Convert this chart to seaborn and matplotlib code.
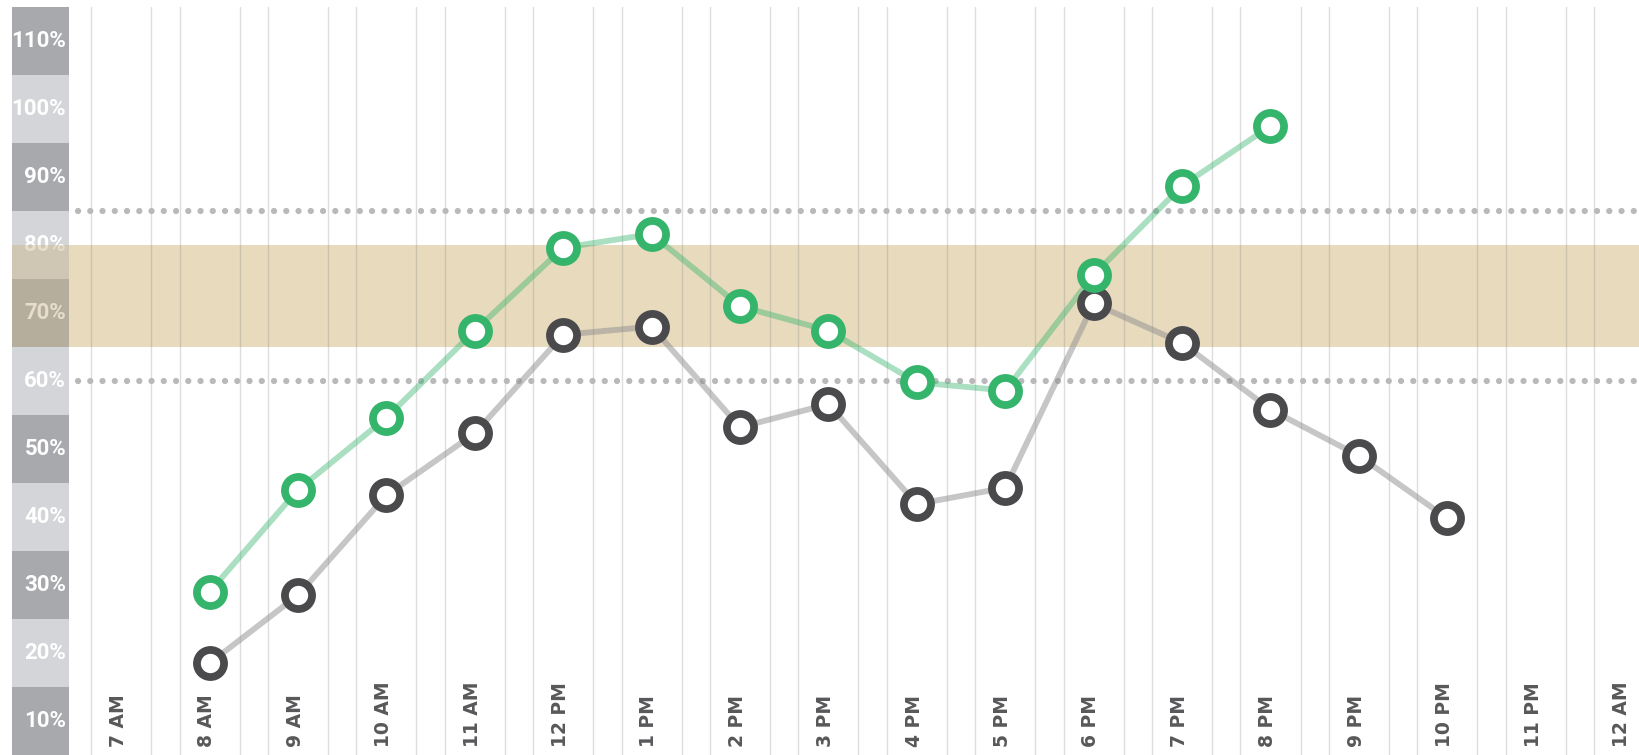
import pandas as pd
import matplotlib
matplotlib.use("Agg")
import matplotlib.pyplot as plt
import seaborn as sns

# data
hours = ["7 AM", "8 AM", "9 AM", "10 AM", "11 AM", "12 PM", "1 PM", "2 PM", "3 PM",
         "4 PM", "5 PM", "6 PM", "7 PM", "8 PM", "9 PM", "10 PM", "11 PM", "12 AM"]

green_hours = ["8 AM", "9 AM", "10 AM", "11 AM", "12 PM", "1 PM", "2 PM", "3 PM",
               "4 PM", "5 PM", "6 PM", "7 PM", "8 PM"]
green_values = [29.0, 44.0, 54.6, 67.4, 79.6, 81.6, 71.0, 67.4, 59.8, 58.6, 75.6, 88.7, 97.5]

grey_hours = ["8 AM", "9 AM", "10 AM", "11 AM", "12 PM", "1 PM", "2 PM", "3 PM",
              "4 PM", "5 PM", "6 PM", "7 PM", "8 PM", "9 PM", "10 PM"]
grey_values = [18.5, 28.5, 43.2, 52.3, 66.8, 68.0, 53.2, 56.6, 41.9, 44.3, 71.4, 65.6,
               55.8, 49.0, 39.8]

y_ticks = [10, 20, 30, 40, 50, 60, 70, 80, 90, 100, 110]
target_band = (65, 80)
limit_lines = [60, 85]

# colours
GREEN = "#35b46c"
DARK = "#4a4a4d"
TAN = "#e7dabd"
STRIP_DARK = "#a8a9ad"
STRIP_LIGHT = "#d4d5d8"

sns.set_theme(style="white")
plt.rcParams["font.family"] = ["Roboto", "DejaVu Sans"]

df = pd.concat([
    pd.DataFrame({"hour": green_hours, "value": green_values, "series": "green"}),
    pd.DataFrame({"hour": grey_hours, "value": grey_values, "series": "grey"}),
])
df["pos"] = df["hour"].map(hours.index)

W, H = 1640, 755
fig = plt.figure(figsize=(W / 100, H / 100), dpi=100)
top = (H - 7) / H

# left label strip
ax_s = fig.add_axes([12.5 / W, 0, 56.5 / W, top])
ax_s.set_xlim(0, 1)
ax_s.set_ylim(5, 115)
ax_s.barh(y_ticks, 1, height=10, left=0, lw=0,
          color=[STRIP_DARK if i % 2 == 0 else STRIP_LIGHT for i in range(len(y_ticks))],
          zorder=1)
for v in y_ticks:
    ax_s.text(0.95, v, f"{v}%", ha="right", va="center", color="white",
              fontsize=16, fontweight="bold", zorder=2)
ax_s.axhspan(*target_band, color="#c9b68a", alpha=0.45, lw=0, zorder=3)
ax_s.axis("off")

# main chart
ax = fig.add_axes([69 / W, 0, 1 - 69 / W, top])
ax.set_xlim(-0.59, 17.18)
ax.set_ylim(5, 115)

ax.axhspan(*target_band, color=TAN, lw=0, zorder=0)

half = 0.34
for i in range(len(hours)):
    for edge in (i - half, i + half):
        ax.axvline(edge, color="#888888", alpha=0.28, lw=1, zorder=1)
    ax.text(i - 0.03, 6.2, hours[i], rotation=90, ha="center", va="bottom",
            fontsize=13.5, fontweight="bold", color="#58585a",
            family=["DejaVu Sans"], zorder=2)

for y in limit_lines:
    ax.axhline(y, xmin=0.006, xmax=1, color="#b9b9bb", lw=4.5,
               linestyle=(0, (0.01, 1.95)), dash_capstyle="round", zorder=2)

line_colors = {"grey": "#8e8e90", "green": GREEN}
for name in ["grey", "green"]:
    d = df[df["series"] == name]
    sns.lineplot(data=d, x="pos", y="value", color=line_colors[name],
                 alpha=0.5 if name == "grey" else 0.42, lw=4.2,
                 sort=False, estimator=None, ax=ax, zorder=3)

edge_colors = {"grey": DARK, "green": GREEN}
for name in ["grey", "green"]:
    d = df[df["series"] == name]
    sns.lineplot(data=d, x="pos", y="value", color=edge_colors[name],
                 linestyle="", marker="o", markersize=19.5, markeredgewidth=5.6,
                 markerfacecolor="white", markeredgecolor=edge_colors[name],
                 sort=False, estimator=None, ax=ax, zorder=4)

ax.set_xlabel("")
ax.set_ylabel("")
ax.axis("off")

fig.savefig("out.png", dpi=100)
